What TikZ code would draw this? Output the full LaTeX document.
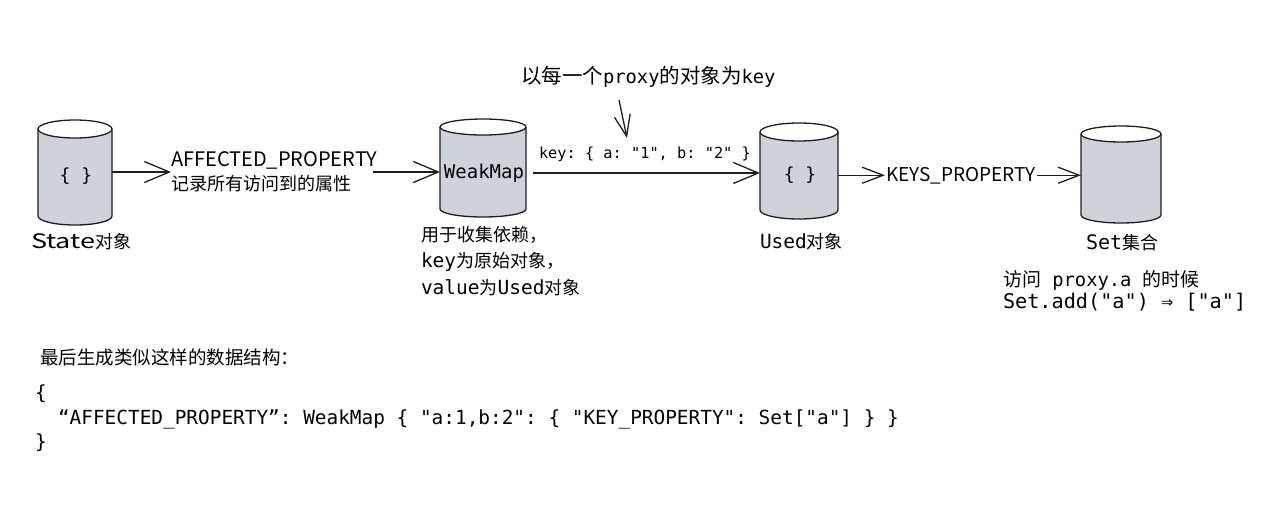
\documentclass[tikz,border=0pt]{standalone}
\usepackage{fontspec}
\setmainfont{Noto Sans CJK SC}
\setmonofont{DejaVu Sans Mono}
\usetikzlibrary{arrows.meta}
\definecolor{cylfill}{RGB}{206,210,217}
\definecolor{ink}{RGB}{30,30,30}
% #1 name, #2 cx, #3 top ellipse y, #4 bottom ellipse y, #5 rx, #6 ry, #7 node centre y
\newcommand\mycyl[7]{%
  \fill[cylfill] (#2-#5,-#3) -- (#2-#5,-#4) arc[start angle=180,end angle=360,x radius=#5,y radius=#6] -- (#2+#5,-#3) -- cycle;
  \draw[cylline] (#2-#5,-#3) -- (#2-#5,-#4) arc[start angle=180,end angle=360,x radius=#5,y radius=#6] -- (#2+#5,-#3);
  \draw[cylline,fill=white] (#2,-#3) ellipse[x radius=#5,y radius=#6];
  \node[cylnode,minimum width={2*#5},minimum height={#4-#3+2*#6}] (#1) at (#2,-#7) {};
}
\begin{document}
\begin{tikzpicture}[x=1pt,y=1pt,
  cylline/.style={draw=ink,line width=1.3pt,line join=round},
  arr/.style={draw=ink,line width=1.3pt,-{Straight Barb[length=25pt,width=21pt]}},
  arrsm/.style={draw=ink,line width=1.3pt,-{Straight Barb[length=21pt,width=16pt]}},
  cylnode/.style={draw=none,inner sep=0pt,outer sep=0pt},
  txt/.style={inner sep=0pt,outer sep=0pt,text=black},
  cjk/.style={txt,font=\fontsize{18}{24}\selectfont},
  mono/.style={txt,font=\ttfamily\fontsize{19}{24}\selectfont},
]
\useasboundingbox (0,0) rectangle (1263,-504);

% cylinders
\mycyl{state}{75}{129}{216}{37}{9}{172}
\mycyl{wm}{483}{127}{209}{43}{8}{173}
\mycyl{used}{799}{132}{210}{39}{9}{175}
\mycyl{set}{1121}{134}{215}{40}{8}{176}

% text inside cylinders
\node[mono,font=\ttfamily\fontsize{18}{22}\selectfont,anchor=base] (statebr) at (76,-181) {\{ \}};
\node[mono,anchor=base] (wmtxt) at (484,-178) {WeakMap};
\node[mono,font=\ttfamily\fontsize{18}{22}\selectfont,anchor=base] (usedbr) at (800,-180) {\{ \}};

% labels below cylinders
\node[cjk,anchor=base west] (statelbl) at (31,-248) {\fontsize{20}{24}\selectfont\scalebox{1.35}[1]{State}\fontsize{18}{24}\selectfont 对象};
\node[cjk,anchor=base west] (usedlbl) at (760,-248) {{\ttfamily\fontsize{19.5}{24}\selectfont Used}对象};
\node[cjk,anchor=base west] (setlbl) at (1086,-249) {{\ttfamily\fontsize{20}{24}\selectfont Set}集合};

% AFFECTED_PROPERTY label
\node[cjk,anchor=west,align=left] (aff) at (171,-172)
  {{\fontsize{20}{24}\selectfont AFFECTED\_PROPERTY}\\记录所有访问到的属性};

% WeakMap description
\node[cjk,anchor=base west] (dep1) at (421,-241) {用于收集依赖，};
\node[cjk,anchor=base west] (dep2) at (421,-267) {{\ttfamily\fontsize{19.5}{24}\selectfont key}为原始对象，};
\node[cjk,anchor=base west] (dep3) at (421,-294) {{\ttfamily\fontsize{19.5}{24}\selectfont value}为{\ttfamily\fontsize{19.5}{24}\selectfont Used}对象};

% key label and top label
\node[mono,font=\ttfamily\fontsize{15.3}{20}\selectfont,anchor=base west] (keylbl) at (539,-158) {key: \{ a: "1", b: "2" \}};
\node[cjk,font=\fontsize{20.5}{24}\selectfont,anchor=base west] (toplbl) at (521,-83)
  {以每一个{\ttfamily\fontsize{18.8}{24}\selectfont proxy}的对象为{\ttfamily\fontsize{18.8}{24}\selectfont key}};

% KEYS_PROPERTY
\node[cjk,font=\fontsize{19}{24}\selectfont,anchor=base west,inner xsep=1pt] (keys) at (885,-181) {KEYS\_PROPERTY};

% visit note
\node[cjk,font=\fontsize{19}{24}\selectfont,anchor=base west] (visit1) at (1003,-286)
  {访问{\ttfamily\fontsize{18.8}{24}\selectfont\ proxy.a\ }的时候};
\node[mono,font=\ttfamily\fontsize{20.2}{24}\selectfont,anchor=base west] (visit2) at (1003,-308)
  {Set.add("a") ⇒ ["a"]};

% bottom text
\node[cjk,font=\fontsize{18.5}{24}\selectfont,anchor=base west] (final) at (40,-364) {最后生成类似这样的数据结构：};
\node[mono,font=\ttfamily\fontsize{19.4}{24}\selectfont,anchor=base west] (code1) at (35,-399) {\{};
\node[mono,font=\ttfamily\fontsize{19.4}{24}\selectfont,anchor=base west] (code2) at (58,-424)
  {“AFFECTED\_PROPERTY”: WeakMap \{ "a:1,b:2": \{ "KEY\_PROPERTY": Set["a"] \} \}};
\node[mono,font=\ttfamily\fontsize{19.4}{24}\selectfont,anchor=base west] (code3) at (35,-448) {\}};

% connectors
\draw[arr] (state.east) -- (state.east -| aff.west);
\draw[arr] ([xshift=-4pt]aff.east |- state.east) -- (state.east -| wm.west);
\draw[arr,shorten <=7pt] (wm.east) -- (wm.east -| used.west);
\coordinate (dstart) at (619,-100);
\coordinate (dend) at (627,-138);
\draw[arrsm] (dstart) -- (dend);
\draw[arrsm] (used.east |- keys.west) -- (keys.west);
\draw[arrsm] (keys.east) -- (keys.east -| set.west);
\end{tikzpicture}
\end{document}
